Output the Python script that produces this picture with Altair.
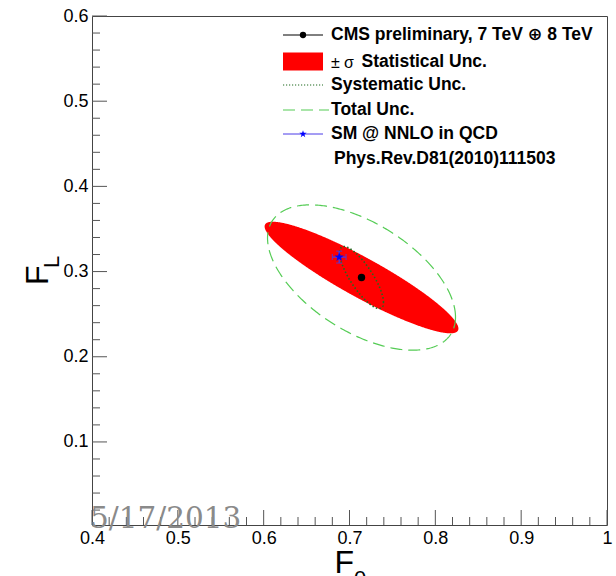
import altair as alt
import numpy as np
import pandas as pd

# ---------------- values ----------------
X_TICK_MAJOR = [0.4, 0.5, 0.6, 0.7, 0.8, 0.9, 1.0]
X_TICK_MINOR = [0.42, 0.44, 0.46, 0.48, 0.52, 0.54, 0.56, 0.58,
                0.62, 0.64, 0.66, 0.68, 0.72, 0.74, 0.76, 0.78,
                0.82, 0.84, 0.86, 0.88, 0.92, 0.94, 0.96, 0.98]
Y_TICK_MAJOR = [0.1, 0.2, 0.3, 0.4, 0.5, 0.6]
Y_TICK_MINOR = [0.02, 0.04, 0.06, 0.08, 0.12, 0.14, 0.16, 0.18,
                0.22, 0.24, 0.26, 0.28, 0.32, 0.34, 0.36, 0.38,
                0.42, 0.44, 0.46, 0.48, 0.52, 0.54, 0.56, 0.58]

# measurement (CMS 7 TeV + 8 TeV)
MEAS_F0 = [0.714]
MEAS_FL = [0.293]

# 1-sigma contours: statistical, systematic, total
ELLIPSE_NAMES = ["stat", "syst", "total"]
ELLIPSE_SIGMA_F0 = [0.1129, 0.0256, 0.1095]
ELLIPSE_SIGMA_FL = [0.0655, 0.0364, 0.0853]
ELLIPSE_RHO = [-0.915, -0.80, -0.544]

# SM @ NNLO in QCD
SM_F0 = [0.688]
SM_FL = [0.317]
SM_ERR_F0 = [0.008]
SM_ERR_FL = [0.007]

LEGEND_LABELS = ["CMS preliminary, 7 TeV \u2295 8 TeV", "\u00b1", "\u03c3",
                 "Statistical Unc.", "Systematic Unc.", "Total Unc.",
                 "SM @ NNLO in QCD", "Phys.Rev.D81(2010)111503"]
DATE_LABEL = "5/17/2013"

# ---------------- build tables ----------------
cx, cy = MEAS_F0[0], MEAS_FL[0]


def ellipse_outline(i, n=361):
    t = np.linspace(0, 2 * np.pi, n)
    sx, sy, r = ELLIPSE_SIGMA_F0[i], ELLIPSE_SIGMA_FL[i], ELLIPSE_RHO[i]
    return pd.DataFrame({
        "t": t,
        "F0": cx + sx * np.cos(t),
        "FL": cy + sy * (r * np.cos(t) + np.sqrt(1 - r * r) * np.sin(t)),
    })


def ellipse_band(i, n=400):
    t = np.linspace(0, np.pi, n)
    sx, sy, r = ELLIPSE_SIGMA_F0[i], ELLIPSE_SIGMA_FL[i], ELLIPSE_RHO[i]
    return pd.DataFrame({
        "F0": cx + sx * np.cos(t),
        "lo": cy + sy * (r * np.cos(t) - np.sqrt(1 - r * r) * np.sin(t)),
        "hi": cy + sy * (r * np.cos(t) + np.sqrt(1 - r * r) * np.sin(t)),
    })


stat_band = ellipse_band(0)
syst_line = ellipse_outline(1)
tot_line = ellipse_outline(2)
meas = pd.DataFrame({"F0": MEAS_F0, "FL": MEAS_FL})
sm = pd.DataFrame({
    "F0": SM_F0, "FL": SM_FL,
    "x0": [SM_F0[0] - SM_ERR_F0[0]], "x1": [SM_F0[0] + SM_ERR_F0[0]],
    "y0": [SM_FL[0] - SM_ERR_FL[0]], "y1": [SM_FL[0] + SM_ERR_FL[0]],
})
one = pd.DataFrame({"a": [0]})

W, H = 515, 509
FONT = "Liberation Sans, Arial, Helvetica, DejaVu Sans, sans-serif"
AXC = "#555555"
BLUE = "#4a3ae8"
STAR = ("M0,-1L0.2245,-0.309L0.951,-0.309L0.363,0.118L0.588,0.809L0,0.382"
        "L-0.588,0.809L-0.363,0.118L-0.951,-0.309L-0.2245,-0.309Z")

xs = alt.Scale(domain=[0.4, 1.0], zero=False, nice=False)
ys = alt.Scale(domain=[0.0025, 0.6], zero=False, nice=False)
xaxis = alt.Axis(values=X_TICK_MAJOR, format="~g", ticks=False, tickSize=0,
                 domain=False, grid=False, labelFont=FONT, labelFontSize=18,
                 labelColor="black", labelPadding=4, labelFlush=False,
                 labelOverlap=False, title=None)
yaxis = alt.Axis(values=Y_TICK_MAJOR, format="~g", ticks=False, tickSize=0,
                 domain=False, grid=False, labelFont=FONT, labelFontSize=18,
                 labelColor="black", labelPadding=4, labelFlush=False,
                 labelOverlap=False, title=None)


def X(f):
    return alt.X(f, type="quantitative", scale=xs, axis=xaxis)


def Y(f):
    return alt.Y(f, type="quantitative", scale=ys, axis=yaxis)


layers = []

# statistical ellipse (filled)
layers.append(alt.Chart(stat_band).mark_area(color="#ff0000", opacity=1).encode(
    x=X("F0"), y=Y("lo"), y2="hi"))
# total (dashed)
layers.append(alt.Chart(tot_line).mark_line(
    color="#55cc55", strokeWidth=1.2, strokeDash=[12, 6]).encode(
    x=X("F0"), y=Y("FL"), order="t:Q"))
# systematic (dotted)
layers.append(alt.Chart(syst_line).mark_line(
    color="#1f6b1f", strokeWidth=1.6, strokeDash=[1.5, 2.2]).encode(
    x=X("F0"), y=Y("FL"), order="t:Q"))
# SM error bars
layers.append(alt.Chart(sm).mark_rule(color=BLUE, strokeWidth=1.3).encode(
    x=X("x0"), x2="x1", y=Y("FL")))
layers.append(alt.Chart(sm).mark_rule(color=BLUE, strokeWidth=1.3).encode(
    x=X("F0"), y=Y("y0"), y2="y1"))
for f in ["x0", "x1"]:
    layers.append(alt.Chart(sm).mark_tick(color=BLUE, orient="vertical",
                                          size=6, thickness=1.2).encode(
        x=X(f), y=Y("FL")))
for f in ["y0", "y1"]:
    layers.append(alt.Chart(sm).mark_tick(color=BLUE, orient="horizontal",
                                          size=6, thickness=1.2).encode(
        x=X("F0"), y=Y(f)))
layers.append(alt.Chart(sm).mark_point(shape=STAR, filled=True, color="#0000ff",
                                       size=95, opacity=1).encode(
    x=X("F0"), y=Y("FL")))
# measurement point
layers.append(alt.Chart(meas).mark_point(shape="circle", filled=True,
                                         color="black", size=55, opacity=1).encode(
    x=X("F0"), y=Y("FL")))

# inward ticks
for vals, ln in [(X_TICK_MAJOR, 15), (X_TICK_MINOR, 8)]:
    layers.append(alt.Chart(pd.DataFrame({"v": vals})).mark_rule(
        color=AXC, strokeWidth=1).encode(
        x=X("v"), y=alt.value(H), y2=alt.value(H - ln)))
for vals, ln in [(Y_TICK_MAJOR, 15), (Y_TICK_MINOR, 8)]:
    layers.append(alt.Chart(pd.DataFrame({"v": vals})).mark_rule(
        color=AXC, strokeWidth=1).encode(
        y=Y("v"), x=alt.value(0), x2=alt.value(ln)))

# ---------------- legend (pixel layout) ----------------
SX0, SX1, SXC, TX = 191, 231, 211, 239
ROW = [19, 45.5, 69, 94, 118, 143]

layers.append(alt.Chart(one).mark_rule(color="black", strokeWidth=1).encode(
    x=alt.value(SX0), x2=alt.value(SX1), y=alt.value(ROW[0])))
layers.append(alt.Chart(one).mark_point(shape="circle", filled=True, color="black",
                                        size=40, opacity=1).encode(
    x=alt.value(SXC), y=alt.value(ROW[0])))
layers.append(alt.Chart(one).mark_rect(color="#ff0000").encode(
    x=alt.value(SX0), x2=alt.value(SX1), y=alt.value(ROW[1] - 9), y2=alt.value(ROW[1] + 9)))
layers.append(alt.Chart(one).mark_rule(color="#1f6b1f", strokeWidth=1.2,
                                       strokeDash=[1.2, 1.8]).encode(
    x=alt.value(SX0), x2=alt.value(SX1), y=alt.value(ROW[2])))
layers.append(alt.Chart(one).mark_rule(color="#55cc55", strokeWidth=1.2,
                                       strokeDash=[12, 6]).encode(
    x=alt.value(SX0), x2=alt.value(SX1 + 6), y=alt.value(ROW[3])))
layers.append(alt.Chart(one).mark_rule(color=BLUE, strokeWidth=1).encode(
    x=alt.value(SX0), x2=alt.value(SX1), y=alt.value(ROW[4])))
layers.append(alt.Chart(one).mark_point(shape=STAR, filled=True, color="#0000ff",
                                        size=60, opacity=1).encode(
    x=alt.value(SXC), y=alt.value(ROW[4])))


def txt(s, x, y, size=17.5, weight="bold", **kw):
    return alt.Chart(one).mark_text(text=s, font=FONT, fontSize=size,
                                    fontWeight=weight, align="left",
                                    baseline="middle", color="black", **kw).encode(
        x=alt.value(x), y=alt.value(y))


layers.append(txt(LEGEND_LABELS[0], TX, ROW[0]))
layers.append(txt(LEGEND_LABELS[1], TX, ROW[1] + 1, size=16, weight="normal"))
layers.append(txt(LEGEND_LABELS[2], TX + 13, ROW[1] + 1, size=16, weight="normal"))
layers.append(txt(LEGEND_LABELS[3], TX + 30.5, ROW[1]))
layers.append(txt(LEGEND_LABELS[4], TX, ROW[2]))
layers.append(txt(LEGEND_LABELS[5], TX, ROW[3]))
layers.append(txt(LEGEND_LABELS[6], TX, ROW[4]))
layers.append(txt(LEGEND_LABELS[7], TX + 3, ROW[5]))

# ---------------- axis titles with subscripts ----------------
def title_text(s, x, y, size, angle=0):
    kw = dict(text=s, font=FONT, fontSize=size, align="left",
              baseline="alphabetic", color="black")
    if angle:
        kw["angle"] = angle
    return alt.Chart(one).mark_text(**kw).encode(x=alt.value(x), y=alt.value(y))


layers.append(title_text("F", 242.5, 557, 32))
layers.append(title_text("0", 262, 570, 22))
layers.append(title_text("F", -44, 269, 32, angle=270))
layers.append(title_text("L", -33, 252, 22, angle=270))

# date stamp
layers.append(alt.Chart(one).mark_text(
    text=DATE_LABEL, font="DejaVu Serif", fontSize=29.5, align="left",
    baseline="alphabetic", color="#8a8a8a").encode(
    x=alt.value(-2), y=alt.value(512)))

chart = alt.layer(*layers).properties(
    width=W, height=H,
    autosize=alt.AutoSizeParams(type="none"),
    padding={"left": 92, "top": 16, "right": 9, "bottom": 51},
    background="white",
).configure_view(stroke="#444444", strokeWidth=1)

chart.save("out.html", embed_options={"renderer": "svg", "actions": False})
